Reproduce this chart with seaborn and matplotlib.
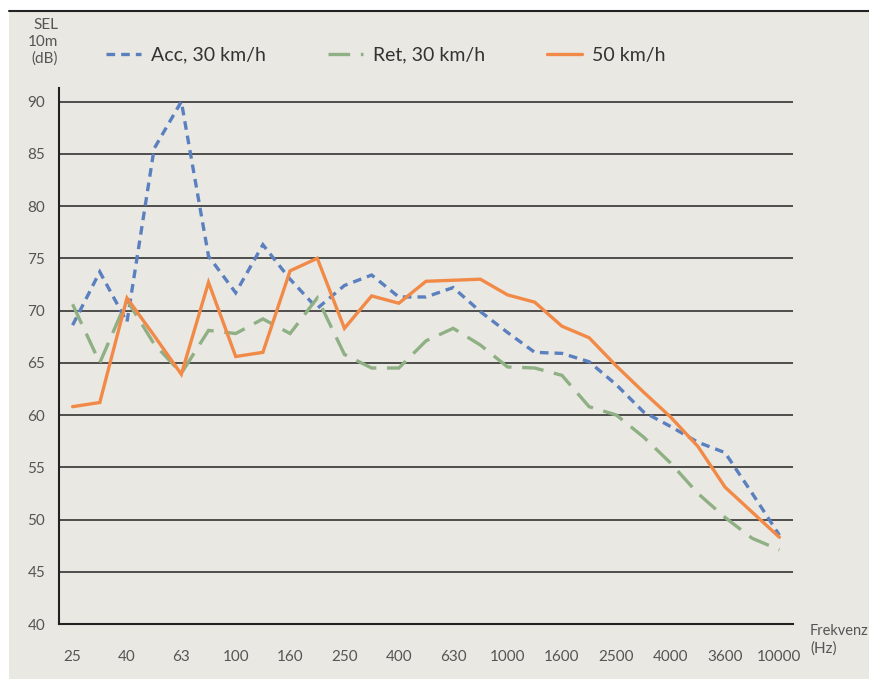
import matplotlib
matplotlib.use("Agg")
import matplotlib.pyplot as plt
from matplotlib.patches import Rectangle
from matplotlib.lines import Line2D
from matplotlib.ticker import FixedLocator
import numpy as np
import pandas as pd
import seaborn as sns

# 1/3-octave band centre frequencies (Hz)
bands = ["25", "31.5", "40", "50", "63", "80", "100", "125", "160", "200",
         "250", "315", "400", "500", "630", "800", "1000", "1250", "1600",
         "2000", "2500", "3150", "4000", "5000", "6300", "8000", "10000"]
# labels printed under every other band
tick_labels = ["25", "40", "63", "100", "160", "250", "400", "630", "1000",
               "1600", "2500", "4000", "3600", "10000"]

acc_30 = [68.6, 73.7, 68.9, 85.5, 90.0, 75.2, 71.7, 76.3, 73.0, 70.2,
          72.4, 73.4, 71.3, 71.3, 72.2, 69.9, 67.9, 66.0, 65.9, 65.1,
          62.9, 60.3, 58.9, 57.4, 56.4, 52.5, 48.5]
ret_30 = [70.6, 65.0, 71.0, 66.8, 64.0, 68.1, 67.8, 69.2, 67.8, 71.2,
          65.8, 64.5, 64.5, 67.1, 68.3, 66.7, 64.6, 64.5, 63.8, 60.8,
          60.0, 57.9, 55.4, 52.5, 50.2, 48.2, 47.1]
speed_50 = [60.8, 61.2, 71.2, 67.6, 63.9, 72.7, 65.6, 66.0, 73.8, 75.0,
            68.3, 71.4, 70.7, 72.8, 72.9, 73.0, 71.5, 70.8, 68.5, 67.4,
            64.7, 62.2, 59.8, 57.0, 53.1, 50.7, 48.3]

series_names = ["Acc, 30 km/h", "Ret, 30 km/h", "50 km/h"]

pos = np.arange(len(bands))
df = pd.DataFrame({
    "pos": np.tile(pos, 3),
    "SEL": acc_30 + ret_30 + speed_50,
    "series": np.repeat(series_names, len(bands)),
})

sns.set_theme(style="white")
plt.rcParams["font.family"] = ["Lato", "DejaVu Sans"]

BG = "#eae8e3"
W, H = 870, 679
fig = plt.figure(figsize=(W / 100, H / 100), dpi=100, facecolor="white")

# grey panel and the rule along its top edge
fig.patches.append(Rectangle((9 / W, 0), 1 - 9 / W, 1 - 10 / H,
                             transform=fig.transFigure, facecolor=BG,
                             edgecolor="none", zorder=-5))
fig.add_artist(Line2D([9 / W, 1], [1 - 10.5 / H, 1 - 10.5 / H],
                      transform=fig.transFigure, color="#222222", lw=1.5))

ax = fig.add_axes([59 / W, 1 - 624 / H, (793 - 59) / W, (624 - 88) / H])
ax.set_zorder(2)
ax.set_facecolor(BG)

palette = {"Acc, 30 km/h": "#5b80c0", "Ret, 30 km/h": "#8fb084", "50 km/h": "#f28a47"}
dashes = {"Acc, 30 km/h": (2.6, 1.8), "Ret, 30 km/h": (6.5, 3.2), "50 km/h": ""}
widths = {"Acc, 30 km/h": 2.4, "Ret, 30 km/h": 2.4, "50 km/h": 2.4}

for name in series_names:
    sub = df[df["series"] == name]
    sns.lineplot(data=sub, x="pos", y="SEL", ax=ax, color=palette[name],
                 lw=widths[name], dashes=False, label=name, zorder=3)
    line = ax.lines[-1]
    if dashes[name]:
        line.set_dashes(dashes[name])
    line.set_solid_joinstyle("miter")
    line.set_dash_joinstyle("miter")

# horizontal grid
for v in range(45, 91, 5):
    ax.axhline(v, color="#333333", lw=1.2, zorder=1)

ax.set_xlim(-0.5, len(bands) - 0.5)
ax.set_ylim(40, 91.3)
ax.set_yticks(range(40, 91, 5))
ax.tick_params(axis="y", length=0, labelsize=11, labelcolor="#555555", pad=10)

ax.set_xticks(pos[::2])
ax.set_xticklabels(tick_labels)
ax.xaxis.set_minor_locator(FixedLocator(np.arange(-0.5, len(bands), 1.0)))
ax.tick_params(axis="x", which="major", length=0, labelsize=11,
               labelcolor="#555555", pad=19)
ax.tick_params(axis="x", which="minor", length=7, width=1.5, color="#222222",
               direction="out")
ax.set_xlabel("")
ax.set_ylabel("")

for s in ["top", "right"]:
    ax.spines[s].set_visible(False)
for s in ["left", "bottom"]:
    ax.spines[s].set_color("#222222")
    ax.spines[s].set_linewidth(1.5)

fig.text(58 / W, 1 - 18 / H, "SEL\n10m\n(dB)", ha="right", va="top",
         fontsize=11, color="#555555", linespacing=1.25)
fig.text(810 / W, 1 - 631 / H, "Frekvenz", ha="left", va="center",
         fontsize=10.5, color="#555555")
fig.text(810 / W, 1 - 649 / H, "(Hz)", ha="left", va="center",
         fontsize=11, color="#555555")

ax.legend(ncol=3, loc="center left", bbox_to_anchor=(106 / W, 1 - 55 / H),
          bbox_transform=fig.transFigure, frameon=False, fontsize=14,
          handlelength=1.8, handletextpad=0.5, columnspacing=3.2,
          labelcolor="#333333", borderpad=0, borderaxespad=0)

fig.savefig("out.png", dpi=100, facecolor="white")
